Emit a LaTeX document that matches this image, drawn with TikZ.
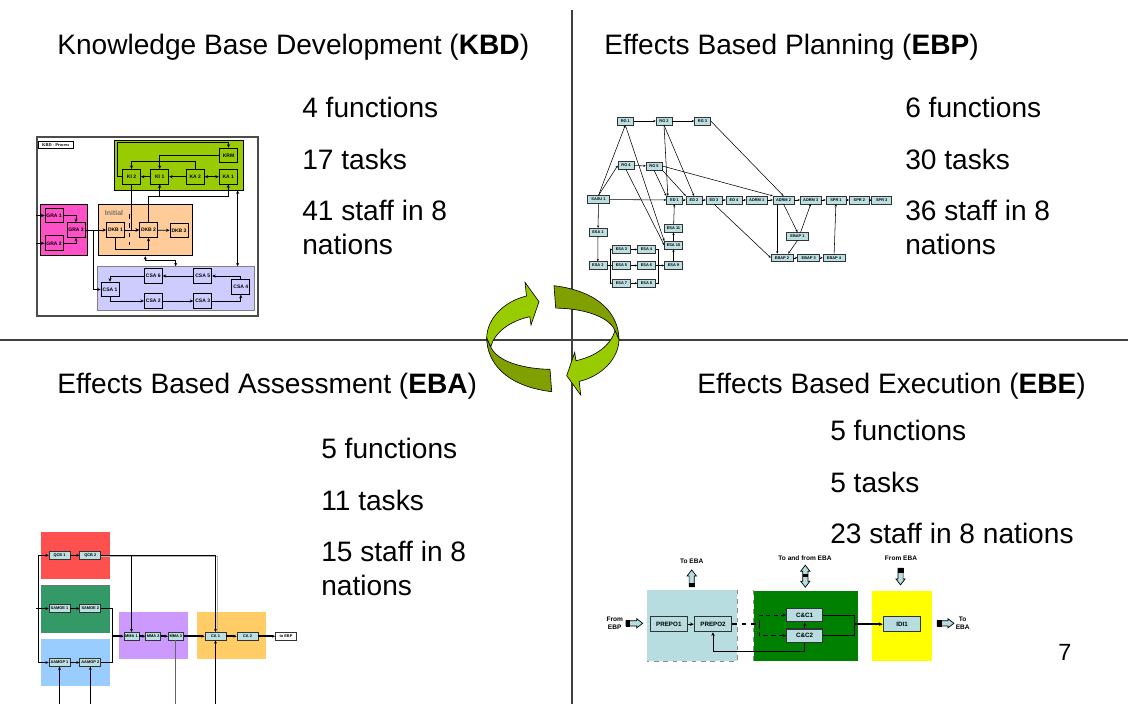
\documentclass[tikz,border=0pt]{standalone}
\usepackage{fontspec}
\setmainfont{Liberation Sans}
\newfontfamily\kbdserif{Liberation Serif}
\usetikzlibrary{arrows.meta,positioning,calc}

\definecolor{kbdgreen}{HTML}{99CC00}
\definecolor{kbdpink}{HTML}{FF50C8}
\definecolor{kbdpeach}{HTML}{FFCC99}
\definecolor{kbdlilac}{HTML}{CCCCFF}
\definecolor{boxteal}{HTML}{BCDFE2}
\definecolor{ebared}{HTML}{FF5050}
\definecolor{ebagreen}{HTML}{339966}
\definecolor{ebablue}{HTML}{99CCFF}
\definecolor{ebaviolet}{HTML}{CC99FF}
\definecolor{ebagold}{HTML}{FFCC66}
\definecolor{ebeteal}{HTML}{B7DDE0}
\definecolor{ebegreen}{HTML}{008000}
\definecolor{ebeyellow}{HTML}{FFFF00}
\definecolor{cyclehi}{HTML}{99CC00}
\definecolor{cyclelo}{HTML}{80A000}

% one half of the turning cycle in the middle
\newcommand\cyclearrow{%
  \filldraw[fill=cyclelo, line width=0.4pt] (486.7,338) .. controls (487,362) and (505,386) .. (551.7,391.7)
    -- (550,369.3) .. controls (525,369) and (497,362) .. (490.7,346.7) -- cycle;
  \filldraw[fill=cyclehi, line width=0.4pt] (490.7,346.7) .. controls (495,332) and (510,321) .. (529.8,316.7)
    -- (531,325) -- (539,301.7) -- (525,282.3) -- (526.5,296) .. controls (505,301) and (487,318) .. (486.7,338) -- cycle;}

% block arrows of the EBE map
\newcommand\fatarrow[2]{%
  \begin{scope}[shift={#1}, rotate=#2]
    \filldraw[fill=ebeteal, line width=0.45pt] (-8.4,-2.6) -- (2.4,-2.6) -- (2.4,-4.6) -- (8.4,0)
      -- (2.4,4.6) -- (2.4,2.6) -- (-8.4,2.6) -- cycle;
    \filldraw[fill=black, line width=0.45pt] (-8.4,-2.6) rectangle (-4.6,2.6);
  \end{scope}}
\newcommand\fatboth[1]{%
  \begin{scope}[shift={#1}, rotate=90]
    \filldraw[fill=ebeteal, line width=0.45pt] (-11,0) -- (-5,-4.6) -- (-5,-2.6) -- (5,-2.6) -- (5,-4.6)
      -- (11,0) -- (5,4.6) -- (5,2.6) -- (-5,2.6) -- (-5,4.6) -- cycle;
    \fill (-1,-2.6) rectangle (2,2.6);
  \end{scope}}

\begin{document}
\begin{tikzpicture}[x=0.0225cm, y=-0.0225cm,
  big/.style={anchor=base west, inner sep=0pt, font=\fontsize{18}{21.6}\selectfont},
  area/.style={inner sep=0pt, line width=0.6pt},
  kbox/.style={draw, line width=0.6pt, inner sep=0pt, minimum width=11.5pt, minimum height=9.4pt,
    font=\fontsize{3.2}{3.6}\selectfont\bfseries},
  karr/.style={-{Stealth[length=2.2pt,width=2pt]}, line width=0.5pt},
  kboth/.style={{Stealth[length=2.2pt,width=2pt]}-{Stealth[length=2.2pt,width=2pt]}, line width=0.5pt},
  pbox/.style={draw=black!80, fill=boxteal, line width=0.35pt, inner sep=0pt, minimum height=4.9pt,
    minimum width=#1, font=\fontsize{2.5}{2.7}\selectfont\bfseries},
  pbox/.default=10.2pt,
  parr/.style={-{Stealth[length=1.6pt,width=1.4pt]}, line width=0.35pt},
  abox/.style={draw=black!80, fill=boxteal, line width=0.5pt, inner sep=0pt, minimum height=4.9pt,
    minimum width=#1, font=\fontsize{2.5}{2.7}\selectfont\bfseries},
  abox/.default=13.4pt,
  aarr/.style={-{Stealth[length=2pt,width=1.8pt]}, line width=0.5pt},
  ebox/.style={draw=black!80, fill=ebeteal, line width=0.7pt, inner sep=0pt, minimum width=24pt,
    minimum height=9.6pt, font=\fontsize{4}{4.4}\selectfont\bfseries},
  earr/.style={-{Stealth[length=2.4pt,width=2.2pt]}, line width=0.6pt},
  elab/.style={inner sep=0pt, align=center, font=\fontsize{4.2}{5.3}\selectfont\bfseries}]

\useasboundingbox (0,0) rectangle (1128,704);

% quadrants
\coordinate (vtop) at (572,10);
\coordinate (vbot) at (572,704);
\coordinate (hlft) at (0,340);
\coordinate (hrgt) at (1128,340);
\draw[black!75, line width=0.8pt] (vtop) -- (vbot);
\draw[black!75, line width=0.8pt] (hlft) -- (hrgt);

\node[big] (kbdtitle) at (57,55) {Knowledge Base Development (\textbf{KBD})};
\node[big] (ebptitle) at (604,55) {Effects Based Planning (\textbf{EBP})};
\node[big] (ebatitle) at (57,393) {Effects Based Assessment (\textbf{EBA})};
\node[big] (ebetitle) at (697,393) {Effects Based Execution (\textbf{EBE})};

\node[big] (kbdfun) at (302,118) {4 functions};
\node[big] (kbdtask) at (302,170) {17 tasks};
\node[big] (kbdstaff) at (302,221) {41 staff in 8};
\node[big] (kbdnat) at (302,255) {nations};
\node[big] (ebpfun) at (905,118) {6 functions};
\node[big] (ebptask) at (905,170) {30 tasks};
\node[big] (ebpstaff) at (905,221) {36 staff in 8};
\node[big] (ebpnat) at (905,255) {nations};
\node[big] (ebafun) at (321,458) {5 functions};
\node[big] (ebatask) at (321,510) {11 tasks};
\node[big] (ebastaff) at (321,561) {15 staff in 8};
\node[big] (ebanat) at (321,595) {nations};
\node[big] (ebefun) at (830,440) {5 functions};
\node[big] (ebetask) at (830,492) {5 tasks};
\node[big] (ebestaff) at (830,543) {23 staff in 8 nations};
\node[anchor=base west, inner sep=0pt, font=\fontsize{15}{18}\selectfont] (pageno) at (1058,660) {7};

% KBD process
\node[draw=black!70, line width=0.8pt, minimum width=141.4pt, minimum height=114.6pt, inner sep=0pt] (kbdframe) at (147.5,226.5) {};
\node[draw, fill=white, line width=0.4pt, inner sep=0.5pt, minimum width=22.4pt, minimum height=4.3pt,
  font=\kbdserif\fontsize{2.8}{3}\selectfont\bfseries] (kbdtag) at (55.8,145) {KBD - Process};
\node[area, draw, fill=kbdgreen, minimum width=83.2pt, minimum height=32pt] (kbdgrn) at (179,165) {};
\node[area, draw, fill=kbdpink, minimum width=30.5pt, minimum height=33.1pt] (kbdpnk) at (63.85,229.85) {};
\node[area, draw, fill=kbdpeach, minimum width=60.2pt, minimum height=33.1pt] (kbdpch) at (145.3,229.85) {};
\node[area, draw=black!50, fill=kbdlilac, minimum width=100.3pt, minimum height=27.7pt] (kbdlil) at (175.65,288.35) {};
\node[anchor=west, inner sep=0pt, text=black!55, font=\fontsize{4.5}{5}\selectfont\bfseries] (kbdinit) at (104.5,212.5) {Initial};
\draw[dashed, line width=0.6pt] (129.3,214) -- (129.3,245);

\node[kbox] (krm) at (228.5,155.5) {KRM};
\node[kbox] (ki2) at (131.5,176.7) {KI 2};
\node[kbox] (ki1) at (159.7,176.7) {KI 1};
\node[kbox] (ka2) at (195.3,176.7) {KA 2};
\node[kbox] (ka1) at (228.2,176.7) {KA 1};
\node[kbox] (gra1) at (54,215.5) {GRA 1};
\node[kbox] (gra2) at (54,243.3) {GRA 2};
\node[kbox] (gra3) at (76,230) {GRA 3};
\node[kbox] (dkb1) at (115.5,230) {DKB 1};
\node[kbox] (dkb2) at (148.5,230) {DKB 2};
\node[kbox] (dkb3) at (179,230.5) {DKB 3};
\node[kbox] (csa6) at (153.3,276) {CSA 6};
\node[kbox] (csa5) at (202.7,276) {CSA 5};
\node[kbox] (csa4) at (240.8,287) {CSA 4};
\node[kbox] (csa1) at (110,289.5) {CSA 1};
\node[kbox] (csa2) at (153.3,301) {CSA 2};
\node[kbox] (csa3) at (202.7,301) {CSA 3};

\draw[karr] (ki2.west) -| (117.7,142.7) -| (krm.north);
\draw[karr] (krm.west) -| (ki1.north);
\draw[karr] (ka2.north) -- ++(0,-7) -| (ki2.north);
\draw[karr] (ki1) -- (ki2);
\draw[karr] (ka2) -- (ki1);
\draw[kboth] (ka2) -- (ka1);
\draw[karr] (ki2.south) |- (dkb2.west);
\draw[karr] (dkb1) -- (dkb2);
\draw[karr] (dkb2) -- (dkb3);
\draw[karr] (dkb2.north) -- ++(0,-25.5) -| (ka1.south);
\draw[karr] (ki1.south) ++(0,12.8) -- (ki1.south);
\draw[karr] (dkb1.south) -- ++(0,12) -| (dkb2.south);
\draw[karr] (gra1.west) ++(-9,0) -- (gra1.west);
\draw[karr] (gra2.west) ++(-9,0) -- (gra2.west);
\draw[karr] (gra1.east) -| (gra3.north);
\draw[karr] (gra2.east) -| (gra3.south);
\draw[karr] (gra3) -- (dkb1);
\draw[karr] (gra3.east) -- ++(8.3,0) |- (csa1.west);
\draw[kboth] (kbdpch.south) -- ++(0,4.7) -| (kbdlil.north);
\draw[kboth] (kbdgrn.south -| ka1.east) -- (kbdlil.north -| ka1.east);
\draw[karr] (csa5) -- (csa6);
\draw[karr] (csa4.north) |- (csa5.east);
\draw[karr] (csa6.west) -| (csa1.north);
\draw[karr] (csa1.south) |- (csa2.west);
\draw[karr] (csa2) -- (csa3);
\draw[karr] (csa3.east) -| (csa4.south);

% EBP process
\node[pbox] (rg1) at (625.3,121) {RG 1};
\node[pbox] (rg2) at (664,121) {RG 2};
\node[pbox] (rg3) at (702.5,121) {RG 3};
\node[pbox] (rg4) at (626,165.5) {RG 4};
\node[pbox] (rg5) at (654,166) {RG 5};
\node[pbox=13.9pt] (sasu1) at (598.5,199.5) {SASU 1};
\foreach \i/\x in {1/674.5,2/694,3/714,4/734}
  \node[pbox] (ed\i) at (\x,200) {ED \i};
\foreach \i/\x in {1/756.7,2/783.5,3/810.7}
  \node[pbox=13.4pt] (adrm\i) at (\x,200) {ADRM \i};
\foreach \i/\x in {1/836,2/859.3,3/881.7}
  \node[pbox=12.8pt] (spr\i) at (\x,200) {SPR \i};
\node[pbox=14.1pt] (ebap1) at (797.5,236.3) {EBAP 1};
\foreach \i/\x in {2/782,3/808.7,4/834}
  \node[pbox=14.1pt] (ebap\i) at (\x,257.8) {EBAP \i};
\foreach \i/\x/\y in {1/598/232, 2/597.8/265.5, 3/621.5/249.5, 4/646.5/249.5, 5/621.5/265.5,
    6/646.5/265.5, 7/621.5/283.2, 8/646.5/283.2, 9/673.5/265.5, 10/673.5/245.2, 11/673.5/228.3}
  \node[pbox=11.5pt] (esa\i) at (\x,\y) {ESA \i};

\foreach \a/\b in {rg1/rg2, rg2/rg3, rg4/rg5, sasu1/ed1, sasu1/esa1, esa1/esa2, esa2/esa5, esa3/esa4,
    esa5/esa6, esa7/esa8, esa6/esa9, esa9/esa10, esa10/esa11, esa11/ed1, ed1/ed2, ed2/ed3, ed3/ed4,
    ed4/adrm1, adrm1/adrm2, adrm2/adrm3, adrm3/spr1, spr1/spr2, spr2/spr3, ebap2/ebap3, ebap3/ebap4,
    ebap4/spr1}
  \draw[parr] (\a) -- (\b);
\coordinate (esafan) at (610.7,265.5);
\coordinate (esamrg) at (658.3,265.5);
\draw[parr] (esafan) |- (esa3.west);
\draw[parr] (esafan) |- (esa7.west);
\draw[line width=0.35pt] (esa4.east) -| (esamrg);
\draw[line width=0.35pt] (esa8.east) -| (esamrg);
\draw[parr] (sasu1.north) -- (rg1.south);
\draw[parr] (sasu1.north) -- (rg4.west);
\draw[parr] (rg1.south) -- (esa10.north west);
\draw[parr] (rg4.south) -- (esa10.west);
\draw[parr] (rg2.south) -- ([xshift=1pt]ed1.north west);
\draw[parr] (rg2.south) -- (ed2.north);
\draw[parr] (rg5.south) -- (ed1.north west);
\draw[parr] (rg5.south east) -- (ed2.north west);
\draw[parr] (rg5.east) -- (adrm2.north west);
\draw[parr] (rg3.east) -- (adrm2.north);
\draw[parr] (ed3.south) -- (ebap2.west);
\draw[parr] ([xshift=-4pt]adrm2.south) -- ([xshift=-4pt]adrm2.south |- ebap2.north);
\draw[parr] (adrm2.south) -- (ebap1.north);
\draw[parr] ([xshift=2pt]ebap1.north) -- (adrm3.south);
\draw[parr] (ebap1.south) -- ([xshift=4pt]ebap2.north);

% the cycle
\cyclearrow
\begin{scope}[shift={(1105.7,677.4)}, scale=-1]
  \cyclearrow
\end{scope}

% EBA process
\node[area, fill=ebared, minimum width=44.2pt, minimum height=30.3pt] (qcbbg) at (75.5,555.35) {};
\node[area, fill=ebagreen, minimum width=44.2pt, minimum height=30.5pt] (samoebg) at (75.5,609.5) {};
\node[area, fill=ebablue, minimum width=44.2pt, minimum height=30.1pt] (aamopbg) at (75.5,662.5) {};
\node[area, fill=ebaviolet, minimum width=44pt, minimum height=29.9pt] (mmabg) at (153.35,635.65) {};
\node[area, fill=ebagold, minimum width=44pt, minimum height=29.9pt] (cabg) at (231.35,635.65) {};
\draw[black!55, line width=0.6pt] (samoebg.north west) -- (samoebg.north east);

\node[abox] (qcb1) at (59.5,555.3) {QCB 1};
\node[abox] (qcb2) at (90.3,555.3) {QCB 2};
\node[abox] (samoe1) at (59.5,608.5) {SAMOE 1};
\node[abox] (samoe2) at (90.3,608.5) {SAMOE 2};
\node[abox] (aamop1) at (59.5,662.5) {AAMOP 1};
\node[abox] (aamop2) at (90.3,662.5) {AAMOP 2};
\node[abox=9.6pt] (mma1) at (131.5,636.2) {MMA 1};
\node[abox=9.6pt] (mma2) at (153.2,636.2) {MMA 2};
\node[abox=9.6pt] (mma3) at (175.8,636.2) {MMA 3};
\node[abox] (ca1) at (215.5,636.2) {CA 1};
\node[abox] (ca2) at (247.5,636.2) {CA 2};
\node[abox, fill=white] (toebp) at (286,636.2) {to EBP};

\coordinate (ebabus) at (38.3,608.5);
\coordinate (ebain) at (36.3,608.5);
\coordinate (ebamrg) at (112.3,636.2);
\coordinate (ebabot) at (0,704);
\draw[aarr] (ebabus) |- (qcb1.west);
\draw[aarr] (ebabus) |- (aamop1.west);
\draw[aarr, line width=1pt] (ebain) -- (samoe1.west);
\draw[aarr] (qcb1) -- (qcb2);
\draw[aarr, line width=1pt] (samoe1) -- (samoe2);
\draw[aarr] (aamop1) -- (aamop2);
\draw[black!30, line width=0.5pt] ([yshift=-1pt]qcb2.east) -| ([xshift=1pt]ca1.north);
\draw[aarr] (qcb2.east) -| (ca1.north);
\draw[aarr] (qcb2.east -| mma1.north) -- (mma1.north);
\draw[line width=1pt] (samoe2.east) -| (ebamrg);
\draw[line width=0.5pt] (aamop2.east) -| (ebamrg);
\draw[aarr, line width=1pt] (ebamrg) -- (mma1.west);
\foreach \a/\b in {mma1/mma2, mma2/mma3, mma3/ca1, ca1/ca2, ca2/toebp}
  \draw[aarr, line width=1pt] (\a) -- (\b);
\draw[aarr] (aamop1.south |- ebabot) -- (aamop1.south);
\draw[aarr] (aamop2.south |- ebabot) -- (aamop2.south);
\draw[black!60, line width=0.8pt] (mma3.south) -- (mma3.south |- ebabot);
\draw[aarr] (ca1.south |- ebabot) -- (ca1.south);

% EBE process
\node[area, fill=ebeteal, minimum width=57.2pt, minimum height=45.2pt] (prepobg) at (692,625.35) {};
\node[area, fill=ebegreen, minimum width=66.2pt, minimum height=45pt] (ccbg) at (806,625.85) {};
\node[area, fill=ebeyellow, minimum width=38.4pt, minimum height=45pt] (idibg) at (901.7,625.85) {};
\draw[black!45, dashed, line width=0.5pt] (prepobg.north east) -- (prepobg.south east) -- (prepobg.south west);
\draw[black!45, dashed, line width=0.5pt] (ccbg.north west) -- (ccbg.south west);

\node[ebox] (prepo1) at (668.8,624.2) {PREPO1};
\node[ebox] (prepo2) at (713,624.2) {PREPO2};
\node[ebox, minimum width=23pt, minimum height=8.6pt] (cc1) at (804.7,615) {C\&C1};
\node[ebox, minimum width=23pt, minimum height=8.6pt] (cc2) at (804.7,635.7) {C\&C2};
\node[ebox] (idi1) at (902,624.2) {IDI1};

\coordinate (ccsplit) at (759.3,624.2);
\coordinate (ccjoin) at (854.3,624.2);
\draw[earr] (prepo1) -- (prepo2);
\draw[dashed, line width=1pt] (prepo2.east) -- (ccsplit);
\draw[earr, densely dashed] (ccsplit) |- (cc1.west);
\draw[earr, densely dashed] (ccsplit) |- (cc2.west);
\draw[earr] (cc2) -- (cc1);
\draw[line width=0.6pt] (cc1.east) -| (ccjoin);
\draw[line width=0.6pt] (cc2.east) -| (ccjoin);
\draw[earr, line width=1pt] (ccjoin) -- (idi1.west);
\draw[earr] (cc2.south) -- ++(0,8.3) -| (prepo2.south);

\node[elab] (toeba) at (691.7,561.7) {To EBA};
\node[elab] (tofromeba) at (805,558.3) {To and from EBA};
\node[elab] (fromeba) at (901,558.3) {From EBA};
\node[elab] (fromebp) at (614.7,623.5) {From\\EBP};
\node[elab] (toebaout) at (962.7,623.5) {To\\EBA};
\fatarrow{(634.3,623.3)}{0}
\fatarrow{(945.5,623.3)}{0}
\fatarrow{(691.7,578.3)}{90}
\fatarrow{(900.5,576.5)}{-90}
\fatboth{(805.3,576.2)}

\end{tikzpicture}
\end{document}
